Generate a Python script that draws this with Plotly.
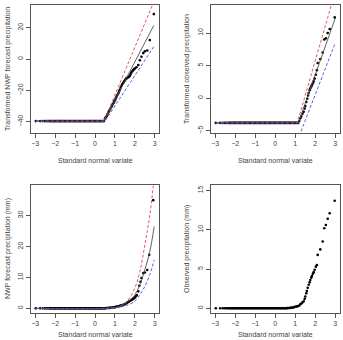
import plotly.graph_objects as go

# ---------------- data ----------------
# theoretical normal quantiles of the censored (zero) part, shared
zero_q_fc = [-2.97, -2.75, -2.62, -2.52, -2.44, -2.37, -2.3, -2.25, -2.2, -2.15, -2.1,
             -2.05, -2.0, -1.95, -1.9, -1.85, -1.8, -1.75, -1.7, -1.65, -1.6, -1.55,
             -1.5, -1.45, -1.4, -1.35, -1.3, -1.25, -1.2, -1.15, -1.1, -1.05, -1.0,
             -0.95, -0.9, -0.85, -0.8, -0.75, -0.7, -0.65, -0.6, -0.55, -0.5, -0.45,
             -0.4, -0.35, -0.3, -0.25, -0.2, -0.15, -0.1, -0.05, 0.0, 0.05, 0.1, 0.15,
             0.2, 0.25, 0.3, 0.35, 0.4, 0.45]
zero_q_ob = zero_q_fc + [0.5, 0.55, 0.6, 0.65, 0.7, 0.75, 0.8, 0.85, 0.9, 0.95, 1.0,
                         1.05, 1.1, 1.15]

# panel 1: transformed NWP forecast
p1_rise_x = [0.5, 0.54, 0.58, 0.62, 0.65, 0.69, 0.72, 0.77, 0.83, 0.87, 0.92, 0.96,
             1.0, 1.04, 1.08, 1.12, 1.17, 1.21, 1.25, 1.29, 1.33, 1.37, 1.42, 1.46,
             1.5, 1.55, 1.58, 1.62, 1.67, 1.71, 1.75, 1.79, 1.83, 1.88, 1.92, 1.96,
             2.0, 2.08, 2.17, 2.25, 2.33, 2.42, 2.5, 2.62, 2.75, 2.95]
p1_rise_y = [-38.0, -37.2, -36.5, -35.4, -34.5, -33.6, -32.8, -31.7, -30.5, -29.3,
             -28.2, -27.2, -26.3, -25.1, -24.0, -22.9, -21.8, -20.6, -19.5, -18.2,
             -17.0, -16.0, -15.2, -14.4, -13.5, -12.6, -12.3, -12.0, -11.6, -11.1,
             -10.6, -9.5, -8.4, -7.6, -7.0, -6.4, -6.0, -5.2, -3.8, -0.8, 1.5, 3.8,
             4.9, 5.5, 12.1, 28.7]
p1_flat = -39.6
p1_red_x = [-2.97, 0.45, 3.0]
p1_red_y = [-39.6, -39.6, 38.0]
p1_mid_x = [-2.97, 0.45, 2.95]
p1_mid_y = [-39.6, -39.6, 21.5]
p1_blue_x = [-2.97, 0.5, 2.95]
p1_blue_y = [-39.6, -39.6, 8.0]

# panel 2: transformed observed
p2_rise_x = [1.2, 1.25, 1.3, 1.36, 1.42, 1.47, 1.5, 1.55, 1.6, 1.64, 1.67, 1.72, 1.75,
             1.8, 1.83, 1.88, 1.92, 1.97, 2.03, 2.08, 2.12, 2.25, 2.37, 2.45, 2.53,
             2.62, 2.72, 2.97]
p2_rise_y = [-3.5, -3.1, -2.8, -2.4, -2.1, -1.6, -1.2, -0.6, -0.1, 0.4, 0.8, 1.2, 1.5,
             1.8, 2.0, 2.3, 2.6, 3.0, 3.6, 4.3, 5.4, 6.0, 7.0, 9.0, 9.2, 10.0, 10.6,
             12.4]
p2_flat = -3.8
p2_red_x = [-2.97, 1.1, 3.0]
p2_red_y = [-3.8, -3.8, 16.4]
p2_mid_x = [-2.97, 1.15, 3.0]
p2_mid_y = [-3.8, -3.8, 12.3]
p2_blue_x = [-2.97, 1.2, None, 1.2, 3.0]
p2_blue_y = [-3.8, -3.8, None, -5.8, 8.5]

# panel 3: NWP forecast precipitation (mm)
p3_rise_x = [0.5, 0.55, 0.6, 0.65, 0.7, 0.75, 0.8, 0.85, 0.9, 0.95, 1.0, 1.05, 1.1,
             1.15, 1.2, 1.25, 1.3, 1.35, 1.4, 1.45, 1.5, 1.55, 1.6, 1.65, 1.7, 1.75,
             1.8, 1.85, 1.9, 1.95, 2.0, 2.05, 2.1, 2.17, 2.22, 2.28, 2.33, 2.42, 2.5,
             2.62, 2.72, 2.92]
p3_rise_y = [0.05, 0.07, 0.1, 0.12, 0.15, 0.17, 0.2, 0.25, 0.3, 0.35, 0.4, 0.47, 0.55,
             0.62, 0.7, 0.8, 0.9, 1.0, 1.1, 1.25, 1.4, 1.6, 1.8, 2.0, 2.2, 2.4, 2.6,
             2.8, 3.0, 3.2, 3.5, 3.9, 4.3, 5.5, 7.3, 8.6, 9.8, 11.4, 11.6, 12.4, 17.3,
             35.0]
p3_flat = 0.0
p3_red_x = [-2.97, 0.5, 1.0, 1.25, 1.67, 2.0, 2.25, 2.5, 2.75, 2.92, 3.0]
p3_red_y = [0.0, 0.0, 0.2, 0.6, 2.8, 6.6, 11.9, 20.5, 30.2, 39.4, 44.0]
p3_mid_x = [-2.97, 0.5, 1.0, 1.33, 1.67, 2.0, 2.25, 2.5, 2.75, 2.97]
p3_mid_y = [0.0, 0.0, 0.3, 0.9, 2.2, 4.4, 7.6, 12.5, 18.4, 26.5]
p3_blue_x = [-2.97, 0.5, 1.0, 1.5, 2.0, 2.25, 2.5, 2.75, 2.97]
p3_blue_y = [0.0, 0.0, 0.2, 0.8, 2.3, 4.4, 7.1, 10.9, 15.7]

# panel 4: observed precipitation (mm)
p4_x = [0.5, 0.55, 0.6, 0.65, 0.7, 0.75, 0.8, 0.85, 0.9, 0.95, 1.0, 1.05, 1.1, 1.15,
        1.2, 1.25, 1.3, 1.36, 1.42, 1.47, 1.5, 1.55, 1.58, 1.62, 1.67, 1.72, 1.75, 1.8,
        1.83, 1.88, 1.92, 1.97, 2.03, 2.08, 2.12, 2.25, 2.37, 2.45, 2.53, 2.62, 2.72,
        2.97]
p4_y = [0.0, 0.0, 0.02, 0.03, 0.04, 0.05, 0.07, 0.08, 0.1, 0.15, 0.2, 0.22, 0.25,
        0.3, 0.35, 0.5, 0.6, 0.75, 0.9, 1.2, 1.5, 1.9, 2.2, 2.6, 3.0, 3.3, 3.6, 3.9,
        4.1, 4.4, 4.6, 4.9, 5.3, 5.5, 6.8, 7.5, 8.5, 10.2, 10.6, 11.4, 12.1, 13.7]
p4_flat = 0.0

ticks_x = [-3, -2, -1, 0, 1, 2, 3]
ticks_y1 = [-40, -20, 0, 20]
ticks_y2 = [-5, 0, 5, 10]
ticks_y3 = [0, 10, 20, 30]
ticks_y4 = [0, 5, 10, 15]

ylab1 = "Transformed NWP forecast precipitation"
ylab2 = "Transformed observed precipitation"
ylab3 = "NWP forecast precipitation (mm)"
ylab4 = "Observed precipitation (mm)"
xlab = "Standard normal variate"

# ---------------- figure ----------------
W, H = 343, 340
FONT = "Liberation Sans, Arial, sans-serif"
RED = "rgb(225,70,80)"
BLUE = "rgb(70,70,225)"
GREY = "rgb(80,80,80)"
TXT = "#444"

fig = go.Figure()

def px_dom(a, b):
    return [a / W, b / W]

def py_dom(top, bottom):
    return [1 - bottom / H, 1 - top / H]

panels = [
    dict(n=1, xd=px_dom(31, 159), yd=py_dom(5, 133), yr=[-47.2, 34.5], yt=ticks_y1),
    dict(n=2, xd=px_dom(211, 339.5), yd=py_dom(5, 133), yr=[-5.35, 14.3], yt=ticks_y2),
    dict(n=3, xd=px_dom(31, 159), yd=py_dom(185, 313), yr=[-1.5, 39.9], yt=ticks_y3),
    dict(n=4, xd=px_dom(211, 339.5), yd=py_dom(185, 313), yr=[-0.6, 15.7], yt=ticks_y4),
]

axis_common = dict(showline=True, mirror=True, linecolor="#555", linewidth=1,
                   ticks="outside", ticklen=4, tickwidth=1, tickcolor="#555",
                   showgrid=False, zeroline=False,
                   tickfont=dict(family=FONT, size=7, color=TXT))

layout = {}
for p in panels:
    n = p["n"]
    xa = "xaxis" if n == 1 else f"xaxis{n}"
    ya = "yaxis" if n == 1 else f"yaxis{n}"
    layout[xa] = dict(domain=p["xd"], range=[-3.21, 3.21], tickvals=ticks_x,
                      anchor=f"y{'' if n == 1 else n}", **axis_common)
    layout[ya] = dict(domain=p["yd"], range=p["yr"], tickvals=p["yt"], tickangle=-90,
                      anchor=f"x{'' if n == 1 else n}", **axis_common)


def add_line(xs, ys, color, dash, n, shape="linear"):
    fig.add_trace(go.Scatter(x=xs, y=ys, mode="lines", xaxis=f"x{'' if n == 1 else n}",
                             yaxis=f"y{'' if n == 1 else n}",
                             line=dict(color=color, width=0.9, dash=dash, shape=shape),
                             showlegend=False, hoverinfo="skip"))


def add_pts(xs, ys, n):
    fig.add_trace(go.Scatter(x=xs, y=ys, mode="markers", xaxis=f"x{'' if n == 1 else n}",
                             yaxis=f"y{'' if n == 1 else n}",
                             marker=dict(color="black", size=2.6), showlegend=False,
                             cliponaxis=True))

DASH = "3px,2px"

# panel 1
add_pts(zero_q_fc + p1_rise_x, [p1_flat] * len(zero_q_fc) + p1_rise_y, 1)
add_line(p1_mid_x, p1_mid_y, GREY, "solid", 1)
add_line(p1_red_x, p1_red_y, RED, DASH, 1)
add_line(p1_blue_x, p1_blue_y, BLUE, DASH, 1)

# panel 2
add_pts(zero_q_ob + p2_rise_x, [p2_flat] * len(zero_q_ob) + p2_rise_y, 2)
add_line(p2_mid_x, p2_mid_y, GREY, "solid", 2)
add_line(p2_red_x, p2_red_y, RED, DASH, 2)
add_line(p2_blue_x, p2_blue_y, BLUE, DASH, 2)

# panel 3
add_pts(zero_q_fc + p3_rise_x, [p3_flat] * len(zero_q_fc) + p3_rise_y, 3)
add_line(p3_mid_x, p3_mid_y, GREY, "solid", 3, "spline")
add_line(p3_red_x, p3_red_y, RED, DASH, 3, "spline")
add_line(p3_blue_x, p3_blue_y, BLUE, DASH, 3, "spline")

# panel 4
add_pts(zero_q_fc + p4_x, [p4_flat] * len(zero_q_fc) + p4_y, 4)

ann = []
tfont = dict(family=FONT, size=7, color=TXT)
for (xc, yc, text, ang) in [
    (95, 160, xlab, 0), (275, 160, xlab, 0),
    (95, 334, xlab, 0), (275, 334, xlab, 0),
    (8, 69, ylab1, -90), (187, 69, ylab2, -90),
    (8, 249, ylab3, -90), (187, 249, ylab4, -90),
]:
    ann.append(dict(x=xc / W, y=1 - yc / H, xref="paper", yref="paper", text=text,
                    showarrow=False, textangle=ang, font=tfont,
                    xanchor="center", yanchor="middle"))

fig.update_layout(width=W, height=H, margin=dict(l=0, r=0, t=0, b=0),
                  paper_bgcolor="white", plot_bgcolor="white",
                  annotations=ann, **layout)

fig.write_html("out.html")
